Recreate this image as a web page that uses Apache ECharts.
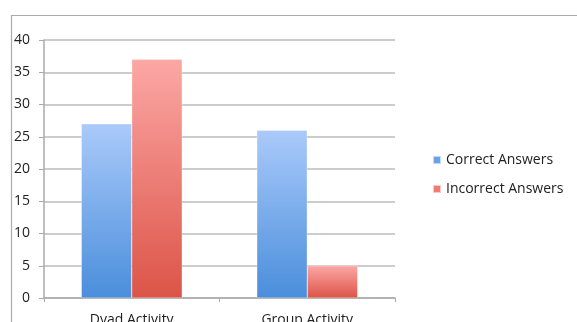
<!DOCTYPE html>
<html><head><meta charset="utf-8">
<script src="https://cdn.jsdelivr.net/npm/echarts@6/dist/echarts.min.js"></script>
<style>html,body{margin:0;padding:0;background:#fff;}#c{width:577px;height:322px;}</style>
</head><body><div id="c"></div>
<script>
const categories = ["Dyad Activity", "Group Activity"];
const seriesNames = ["Correct Answers", "Incorrect Answers"];
const correct = [27, 26];
const incorrect = [37, 5];
const yTicks = { min: 0, max: 40, interval: 5 };

const chart = echarts.init(document.getElementById('c'));
function grad(top, bottom) {
  return new echarts.graphic.LinearGradient(0, 0, 0, 1, [
    { offset: 0, color: top }, { offset: 1, color: bottom }
  ]);
}
const font = "'Open Sans', 'DejaVu Sans', sans-serif";
chart.setOption({
  animation: false,
  textStyle: { fontFamily: font },
  graphic: [{
    type: 'rect', left: 9, top: 13, z: -1,
    shape: { width: 600, height: 340 },
    style: { fill: 'none', stroke: '#aaaaaa', lineWidth: 1.2 }
  }],
  grid: { left: 44, top: 40, width: 351, height: 258, outerBoundsMode: 'none', containLabel: false },
  legend: {
    orient: 'vertical', left: 427, top: 148, itemGap: 15,
    itemWidth: 8, itemHeight: 8, icon: 'rect',
    textStyle: { fontSize: 14, color: '#222', fontFamily: font },
    data: [
      { name: seriesNames[0], itemStyle: { color: '#6aa2e8' } },
      { name: seriesNames[1], itemStyle: { color: '#f07a74' } }
    ]
  },
  xAxis: {
    type: 'category', data: categories,
    axisLine: { lineStyle: { color: '#aaaaaa', width: 1.5 } },
    axisTick: { show: true, length: 4, lineStyle: { color: '#aaaaaa' } },
    axisLabel: { fontSize: 14, color: '#222', margin: 15, fontFamily: font }
  },
  yAxis: {
    type: 'value', min: yTicks.min, max: yTicks.max, interval: yTicks.interval,
    axisLine: { show: true, lineStyle: { color: '#aaaaaa', width: 1.5 } },
    axisTick: { show: true, length: 5, lineStyle: { color: '#aaaaaa' } },
    axisLabel: { fontSize: 14, color: '#222', margin: 14, fontFamily: font },
    splitLine: { lineStyle: { color: '#bbbbbb', width: 1.5 } }
  },
  series: [
    { name: seriesNames[0], type: 'bar', data: correct, barGap: '0%', barCategoryGap: '42.5%',
      itemStyle: { color: grad('#aacafa', '#4a8edb'), borderColor: 'rgba(255,255,255,0.6)', borderWidth: 0.5 } },
    { name: seriesNames[1], type: 'bar', data: incorrect, barGap: '0%', barCategoryGap: '42.5%',
      itemStyle: { color: grad('#fca7a5', '#dc5447'), borderColor: 'rgba(255,255,255,0.6)', borderWidth: 0.5 } }
  ]
});
</script></body></html>
